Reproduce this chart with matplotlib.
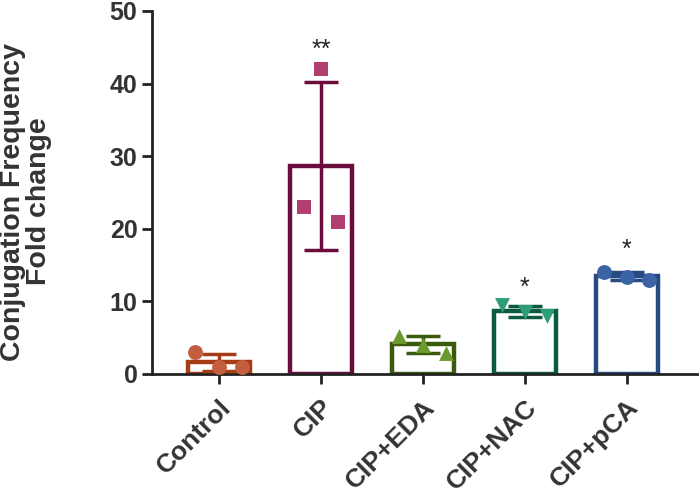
import numpy as np
import matplotlib
matplotlib.use("Agg")
import matplotlib.pyplot as plt

plt.rcParams['font.family'] = ['Liberation Sans', 'DejaVu Sans']

categories = ["Control", "CIP", "CIP+EDA", "CIP+NAC", "CIP+pCA"]
replicates = [
    [3.0, 1.0, 0.9],
    [23.0, 42.0, 21.0],
    [5.3, 4.0, 2.9],
    [9.5, 8.5, 8.0],
    [14.0, 13.4, 12.9],
]
bar_colors = ["#a63c16", "#6b0d3c", "#3c5a0e", "#0c5a40", "#284a82"]
point_colors = ["#c45e40", "#b03e6e", "#6b9a2e", "#2e9d7a", "#3c63a5"]
markers = ["o", "s", "^", "v", "o"]
stars = ["", "**", "", "*", "*"]
star_heights = [None, 44.6, None, 11.8, 17.1]
yticks = [0, 10, 20, 30, 40, 50]

fig = plt.figure(figsize=(7, 4.98), dpi=100)
ax = fig.add_axes([0.2171, 0.249, 0.7786, 0.729])

x = np.arange(len(categories))
means = [np.mean(r) for r in replicates]
sds = [np.std(r, ddof=1) for r in replicates]
spread = [0.23, 0.17, 0.23, 0.22, 0.22]

for i in range(len(categories)):
    ax.bar(x[i], means[i], width=0.61, facecolor="none", edgecolor=bar_colors[i],
           linewidth=3.2, zorder=2)
    ax.errorbar(x[i], means[i], yerr=sds[i], color=bar_colors[i], capsize=12,
                elinewidth=2.5, capthick=2.5, zorder=3)
    offs = np.array([-1, 0, 1]) * spread[i]
    ax.scatter(x[i] + offs, replicates[i], marker=markers[i],
               s=115, color=point_colors[i], zorder=4, linewidths=0)
    if stars[i]:
        ax.text(x[i], star_heights[i], stars[i], ha="center", va="center",
                fontsize=18, color="#222222")

ax.set_xlim(-0.657, 4.69)
ax.set_ylim(0, 50)
ax.set_yticks(yticks)
ax.set_yticklabels([str(t) for t in yticks], fontsize=18, fontweight="bold", color="#333333")
ax.set_xticks(x)
ax.set_xticklabels(categories, rotation=45, ha="right", rotation_mode="anchor",
                   fontsize=19, fontweight="bold", color="#333333")
ax.set_ylabel("Conjugation Frequency\nFold change", fontsize=20.5, fontweight="bold",
              color="#333333", linespacing=1.0)
ax.yaxis.set_label_coords(-0.1835, 0.475)
for s in ["top", "right"]:
    ax.spines[s].set_visible(False)
for s in ["left", "bottom"]:
    ax.spines[s].set_linewidth(2)
    ax.spines[s].set_color("#222222")
ax.tick_params(axis="both", width=2, length=7, color="#222222")
ax.tick_params(axis="x", pad=8)

fig.savefig("out.png", dpi=100)
